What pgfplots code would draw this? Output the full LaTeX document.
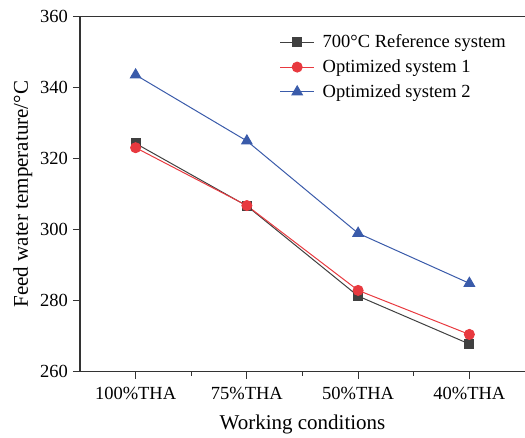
\documentclass[border=0pt]{standalone}
\usepackage{fontspec}
\setmainfont{Liberation Serif}
\usepackage{pgfplots}
\pgfplotsset{compat=1.18}
\definecolor{refgray}{HTML}{404040}
\definecolor{optred}{HTML}{E8393F}
\definecolor{optblue}{HTML}{3A5BAA}

\begin{document}
\begin{tikzpicture}
\begin{axis}[
  at={(0pt,0pt)}, anchor=south west,
  scale only axis, width=445pt, height=355pt,
  xmin=-0.5, xmax=3.5, ymin=260, ymax=360,
  axis lines*=left,
  axis line style={line width=1.2pt, color=black!80},
  every tick/.style={line width=1pt, color=black!80},
  tick align=outside,
  major tick length=7pt, minor tick length=4pt,
  xtick={0,1,2,3},
  xticklabels={100\%THA,75\%THA,50\%THA,40\%THA},
  minor xtick={0.5,1.5,2.5},
  ytick={260,280,...,360},
  yticklabel={\pgfmathprintnumber[assume math mode=true]{\tick}},
  tick label style={font=\fontsize{18.5}{22}\selectfont},
  xticklabel style={anchor=base, inner sep=0pt, yshift=-21pt},
  yticklabel style={anchor=east, inner sep=0pt, xshift=-5pt},
  xlabel={Working conditions},
  ylabel={Feed water temperature/°C},
  label style={font=\fontsize{21}{25}\selectfont},
  xlabel style={at={(axis description cs:0.5,0)}, anchor=base, inner sep=0pt, yshift=-58pt},
  ylabel style={at={(axis description cs:0,0.5)}, anchor=base, inner sep=0pt, yshift=52pt},
  legend style={at={(1,1)}, anchor=north east, xshift=-15pt, yshift=-14pt,
    draw=none, fill=none, font=\fontsize{18.5}{22}\selectfont,
    row sep=6.5pt, inner sep=2pt,
    /tikz/every odd column/.append style={column sep=6pt}},
  legend cell align=left,
  legend image code/.code={\draw[mark repeat=2,mark phase=2,#1] plot coordinates {(0pt,0pt)(17pt,0pt)(34pt,0pt)};},
  clip=false,
]
\addplot[color=refgray, line width=1pt, mark=square*, mark size=4.5pt, mark options={fill=refgray, draw=refgray}]
  coordinates {(0,324.3) (1,306.7) (2,281.3) (3,267.8)};
\addplot[color=optred, line width=1pt, mark=*, mark size=5pt, mark options={fill=optred, draw=optred}]
  coordinates {(0,323.1) (1,306.8) (2,282.9) (3,270.5)};
\addplot[color=optblue, line width=1pt, mark=triangle*, mark size=6pt, mark options={fill=optblue, draw=optblue}]
  coordinates {(0,343.6) (1,325.0) (2,299.0) (3,284.9)};
\legend{700°C Reference system, Optimized system 1, Optimized system 2}
\draw[line width=1.2pt, color=black!80] (rel axis cs:0,1) -- (rel axis cs:1,1);
\end{axis}
\pgfresetboundingbox
\path[use as bounding box] (-80pt,-65.3pt) rectangle (445pt,371.7pt);
\end{tikzpicture}
\end{document}
